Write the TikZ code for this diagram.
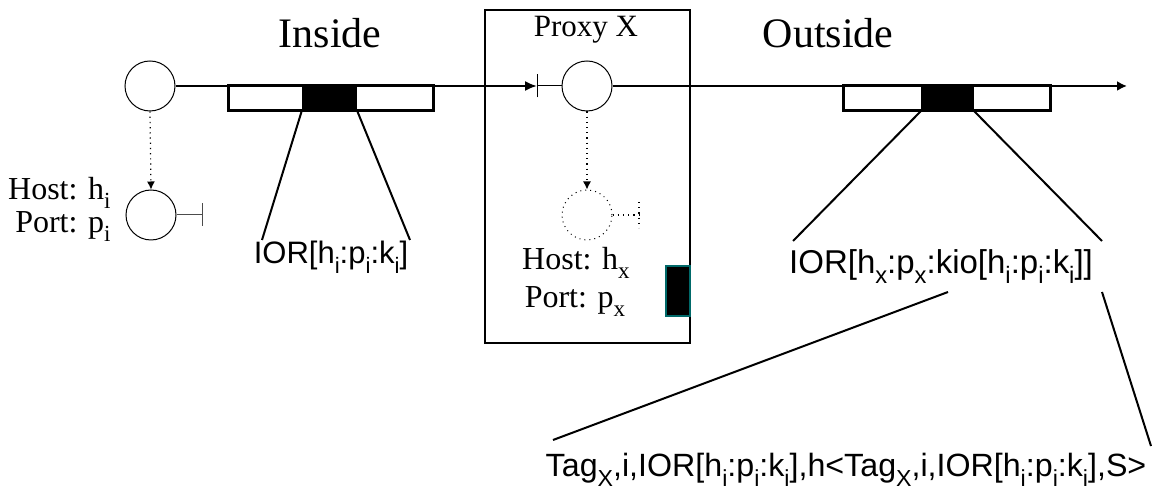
\documentclass[tikz,border=0pt]{standalone}
\usepackage{fontspec}
\setmainfont{Liberation Serif}
\newfontfamily\arialfont{Liberation Sans}
\usetikzlibrary{arrows.meta, positioning}
\definecolor{tealedge}{RGB}{0,105,105}
\newcommand{\lo}[1]{\raisebox{-0.55ex}{\scalebox{0.72}{#1}}}

\begin{document}
\begin{tikzpicture}[x=0.5pt, y=-0.5pt,
    obj/.style={draw, circle, minimum size=25pt, inner sep=0pt, line width=0.5pt},
    ghost/.style={obj, dotted},
    region/.style={font=\fontsize{21}{25}\selectfont, inner sep=0pt, anchor=base},
    hostlbl/.style={font=\fontsize{16}{19}\selectfont, inner sep=0pt},
    ior/.style={font=\arialfont\fontsize{16.5}{19}\selectfont, inner sep=0pt, anchor=base},
    wire/.style={line width=1pt},
    peek/.style={dotted, line width=0.6pt, -{Latex[length=4pt, width=4pt]}},
    tee/.style={line width=0.5pt, draw=black!70, -{Bar[width=11.5pt]}},
    segbar/.style={draw, line width=1.5pt, minimum height=12.5pt, inner sep=0pt},
    key/.style={fill=black, minimum height=12.5pt, inner sep=0pt}
]
    \useasboundingbox (0,0) rectangle (1152,491);

    % region titles
    \node[region] (inside) at (330,48) {Inside};
    \node[region] (outside) at (828,48) {Outside};

    % proxy
    \node[draw, line width=1pt, minimum width=102.5pt, minimum height=166.5pt, inner sep=0pt]
        (proxy) at (587.5,176.5) {};
    \node[font=\fontsize{15.5}{18}\selectfont, inner sep=0pt, anchor=base] (ptitle) at (586,37) {Proxy X};
    \node[fill=black, draw=tealedge, line width=1pt, minimum width=12pt, minimum height=25pt, inner sep=0pt]
        (pblock) at (677.5,291.5) {};

    % objects
    \node[obj] (client) at (150,86) {};
    \node[obj] (iobj) at (151,215) {};
    \node[obj] (pobj) at (587,86) {};
    \node[ghost] (xobj) at (587,215) {};

    \node[hostlbl, anchor=base east] (hosti) at (111,200) {Host: h\lo{i}};
    \node[hostlbl, anchor=base east] (porti) at (111,233) {Port: p\lo{i}};
    \node[hostlbl, anchor=base] (hostx) at (576,270) {Host: h\lo{x}};
    \node[hostlbl, anchor=base] (portx) at (575,308) {Port: p\lo{x}};

    % references on the wire
    \node[segbar, minimum width=102.5pt] (ibar) at (330.5,98.5) {};
    \node[key, minimum width=27.5pt] (ikey) at (329.5,98.5) {};
    \node[segbar, minimum width=103.5pt] (obar) at (946.5,98.5) {};
    \node[key, minimum width=26.5pt] (okey) at (947.5,98.5) {};

    \coordinate (gate) at (537,86);
    \coordinate (farend) at (1127,86);

    \draw[wire, -{Latex[length=6pt, width=5pt]}] (client.east) -- (gate);
    \draw[line width=0.5pt, {Bar[width=11.5pt]}-] (gate) -- (pobj.west);
    \draw[wire, -{Latex[length=5pt, width=5pt]}] (pobj.east) -- (farend);

    \draw[peek] (client.south) -- (iobj.north);
    \draw[peek] (pobj.south) -- (xobj.north);
    \draw[tee] (iobj.east) -- ++(26,0);
    \coordinate (xtee) at (639,215);
    \draw[dotted, line width=0.6pt] (xobj.east) -- (xtee) (xtee) ++(0,-13) -- ++(0,26);

    % IOR labels
    \node[ior, font=\arialfont\fontsize{15.5}{18}\selectfont] (iori) at (331,264) {IOR[h\lo{i}:p\lo{i}:k\lo{i}]};
    \node[ior] (iorx) at (941,274) {IOR[h\lo{x}:p\lo{x}:kio[h\lo{i}:p\lo{i}:k\lo{i}]]};
    \node[ior, font=\arialfont\fontsize{16.1}{19}\selectfont] (tag) at (846,477)
        {Tag\lo{X},i,IOR[h\lo{i}:p\lo{i}:k\lo{i}],h<Tag\lo{X},i,IOR[h\lo{i}:p\lo{i}:k\lo{i}],S>};

    \coordinate (ifanl) at (262,240);
    \coordinate (ifanr) at (410,240);
    \coordinate (ofanl) at (793,241);
    \coordinate (ofanr) at (1102,241);
    \coordinate (tagl) at (553,440);
    \coordinate (tagr) at (1151,446);
    \coordinate (kio) at (948,292);
    \coordinate (kioend) at (1102,292);

    \draw[wire] (ikey.south west) -- (ifanl);
    \draw[wire] (ikey.south east) -- (ifanr);
    \draw[wire] (okey.south west) -- (ofanl);
    \draw[wire] (okey.south east) -- (ofanr);
    \draw[wire] (kio) -- (tagl);
    \draw[wire] (kioend) -- (tagr);
\end{tikzpicture}
\end{document}
